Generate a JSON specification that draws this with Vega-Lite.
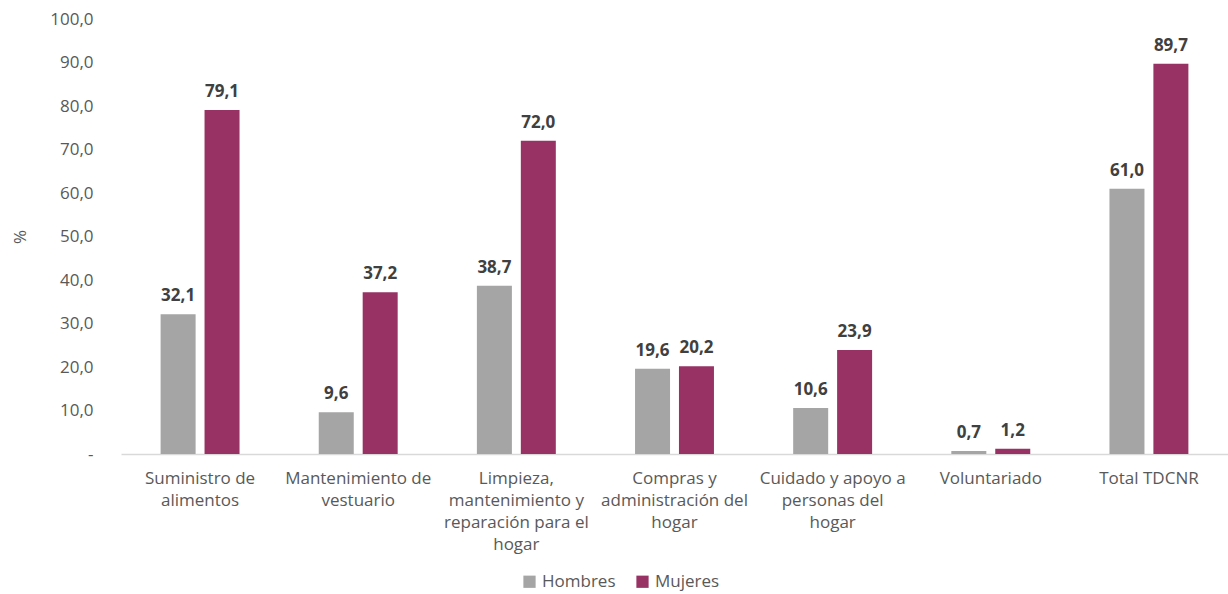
{
  "$schema": "https://vega.github.io/schema/vega-lite/v6.json",
  "width": 1107,
  "height": 435,
  "autosize": "none",
  "padding": {"left": 121, "top": 19, "right": 0, "bottom": 140},
  "background": "white",
  "config": {
    "font": "Open Sans",
    "view": {"stroke": null},
    "locale": {"number": {"decimal": ",", "thousands": ".", "grouping": [3], "currency": ["", ""]}}
  },
  "data": {
    "values": [
      {"cat": "Suministro de|alimentos", "sexo": "Hombres", "v": 32.1},
      {"cat": "Suministro de|alimentos", "sexo": "Mujeres", "v": 79.1},
      {"cat": "Mantenimiento de|vestuario", "sexo": "Hombres", "v": 9.6},
      {"cat": "Mantenimiento de|vestuario", "sexo": "Mujeres", "v": 37.2},
      {"cat": "Limpieza,|mantenimiento y|reparación para el|hogar", "sexo": "Hombres", "v": 38.7},
      {"cat": "Limpieza,|mantenimiento y|reparación para el|hogar", "sexo": "Mujeres", "v": 72.0},
      {"cat": "Compras y|administración del|hogar", "sexo": "Hombres", "v": 19.6},
      {"cat": "Compras y|administración del|hogar", "sexo": "Mujeres", "v": 20.2},
      {"cat": "Cuidado y apoyo a|personas del|hogar", "sexo": "Hombres", "v": 10.6},
      {"cat": "Cuidado y apoyo a|personas del|hogar", "sexo": "Mujeres", "v": 23.9},
      {"cat": "Voluntariado", "sexo": "Hombres", "v": 0.7},
      {"cat": "Voluntariado", "sexo": "Mujeres", "v": 1.2},
      {"cat": "Total TDCNR", "sexo": "Hombres", "v": 61.0},
      {"cat": "Total TDCNR", "sexo": "Mujeres", "v": 89.7}
    ]
  },
  "encoding": {
    "x": {
      "field": "cat", "type": "nominal", "sort": null, "title": null,
      "scale": {"paddingInner": 0, "paddingOuter": 0},
      "axis": {
        "labelAngle": 0, "ticks": false, "domainColor": "#D9D9D9", "domainWidth": 1.5,
        "labelExpr": "split(datum.label, '|')", "labelFontSize": 17, "labelColor": "#595959",
        "labelPadding": 16, "labelLineHeight": 22, "labelBaseline": "top", "labelLimit": 200
      }
    },
    "xOffset": {"field": "sexo", "type": "nominal", "scale": {"paddingInner": 0.2, "paddingOuter": 0.9}},
    "y": {
      "field": "v", "type": "quantitative",
      "scale": {"domain": [0, 100]},
      "title": "%",
      "axis": {
        "values": [0, 10, 20, 30, 40, 50, 60, 70, 80, 90, 100],
        "grid": false, "domain": false, "ticks": false,
        "labelExpr": "datum.value == 0 ? '-' : replace(format(datum.value, '.1f'), '.', ',')",
        "labelFontSize": 17, "labelColor": "#595959", "labelPadding": 28,
        "titleFontSize": 17, "titleFontWeight": "normal", "titleColor": "#595959", "titlePadding": 20
      }
    }
  },
  "layer": [
    {
      "mark": {"type": "bar", "width": 35},
      "encoding": {
        "color": {
          "field": "sexo", "type": "nominal",
          "scale": {"domain": ["Hombres", "Mujeres"], "range": ["#A5A5A5", "#993264"]},
          "legend": {
            "title": null, "orient": "none", "legendX": 400, "legendY": 554, "direction": "horizontal",
            "symbolType": "square", "symbolSize": 150, "labelFontSize": 17, "labelColor": "#595959",
            "columnPadding": 18, "labelOffset": 4, "symbolStrokeWidth": 0
          }
        }
      }
    },
    {
      "mark": {"type": "text", "baseline": "bottom", "dy": -9, "fontSize": 17, "fontWeight": "bold", "color": "#404040"},
      "encoding": {
        "text": {"field": "v", "type": "quantitative", "format": ".1f"}
      }
    }
  ]
}
